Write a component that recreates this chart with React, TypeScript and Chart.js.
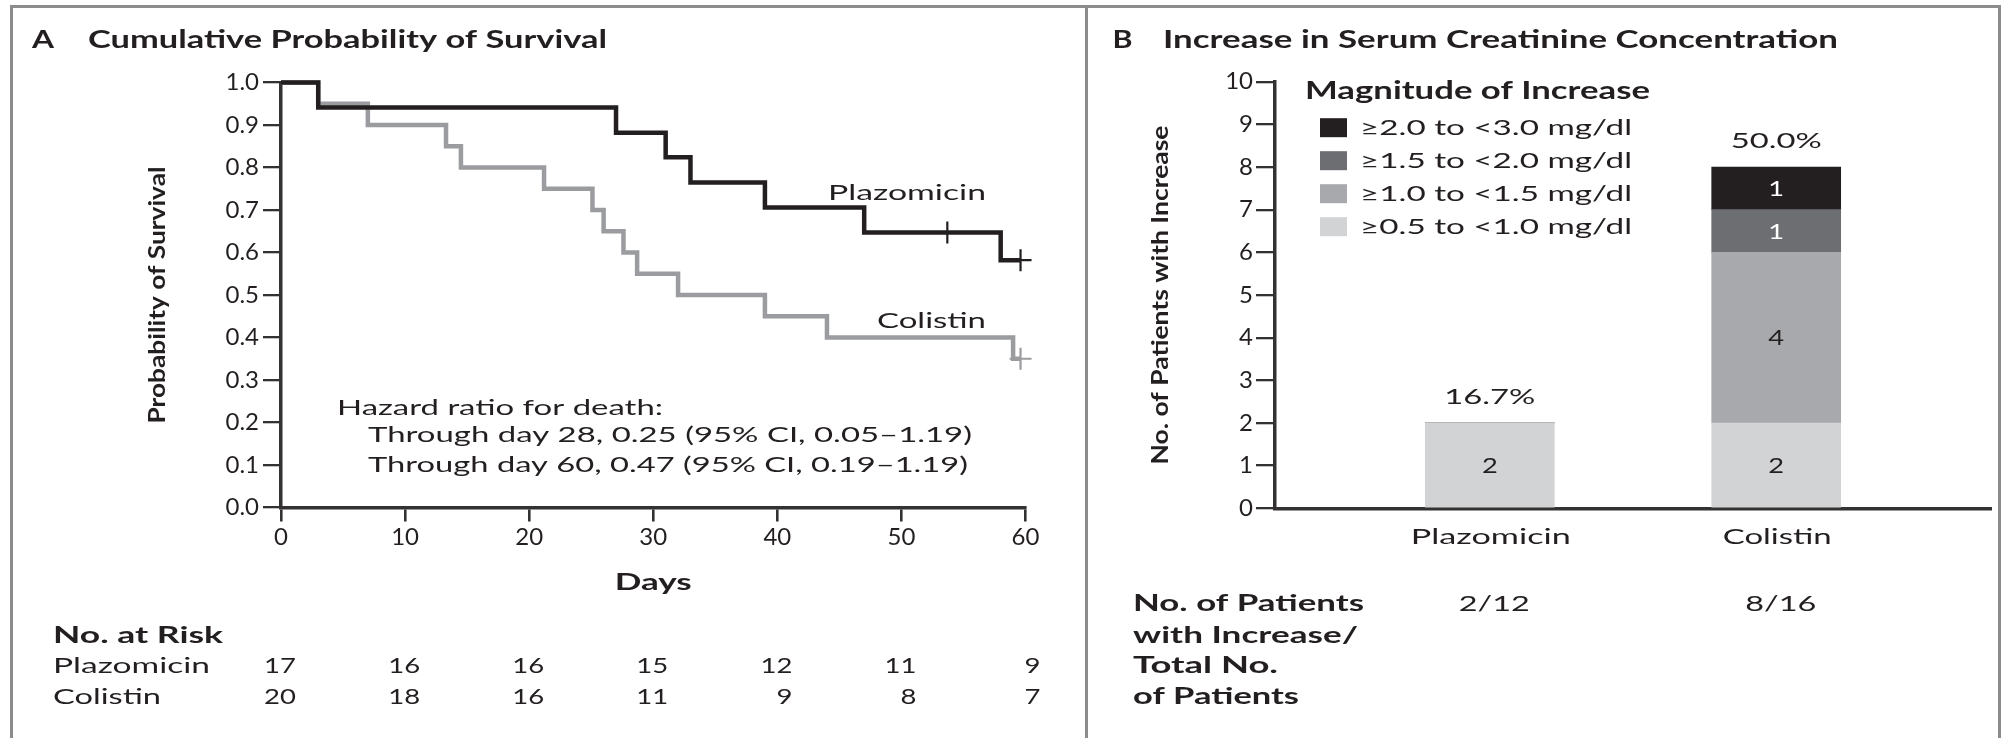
import React, { useEffect, useRef } from 'react';
import { Chart, registerables } from 'chart.js';

Chart.register(...registerables);

// ---------------- Panel A data ----------------
const panelATitle = 'Cumulative Probability of Survival';
const dayTicks = [0, 10, 20, 30, 40, 50, 60];
const probabilityTicks = [0, 0.1, 0.2, 0.3, 0.4, 0.5, 0.6, 0.7, 0.8, 0.9, 1.0];

const plazomicinTimes = [0, 3, 27, 31, 33, 39, 47, 58, 59.6];
const plazomicinSurvival = [1.0, 0.941, 0.882, 0.824, 0.765, 0.706, 0.647, 0.582, 0.582];
const plazomicinCensorTimes = [53.7, 59.6];
const plazomicinCensorSurvival = [0.647, 0.582];

const colistinTimes = [0, 3, 7, 13.3, 14.5, 21.2, 25.1, 26, 27.6, 28.7, 32, 39, 44, 59, 59.6];
const colistinSurvival = [1.0, 0.95, 0.9, 0.85, 0.8, 0.75, 0.7, 0.65, 0.6, 0.55, 0.5, 0.45, 0.4, 0.35, 0.35];
const colistinCensorTimes = [59.6];
const colistinCensorSurvival = [0.35];

const plazomicinAtRisk = [17, 16, 16, 15, 12, 11, 9];
const colistinAtRisk = [20, 18, 16, 11, 9, 8, 7];

const hazardLines = [
  'Hazard ratio for death:',
  'Through day 28, 0.25 (95% CI, 0.05\u20131.19)',
  'Through day 60, 0.47 (95% CI, 0.19\u20131.19)',
];

// ---------------- Panel B data ----------------
const panelBTitle = 'Increase in Serum Creatinine Concentration';
const groups = ['Plazomicin', 'Colistin'];
const countTicks = [0, 1, 2, 3, 4, 5, 6, 7, 8, 9, 10];
// stack order: bottom -> top
const magnitudeLevels = [
  '\u22650.5 to <1.0 mg/dl',
  '\u22651.0 to <1.5 mg/dl',
  '\u22651.5 to <2.0 mg/dl',
  '\u22652.0 to <3.0 mg/dl',
];
const plazomicinCounts = [2, 0, 0, 0];
const colistinCounts = [2, 4, 1, 1];
const patientsWithIncrease = [2, 8];
const totalPatients = [12, 16];

// ---------------- styles ----------------
const FONT = 'Lato, "Open Sans", "DejaVu Sans", sans-serif';
const INK = '#231f20';
const AXIS = '#333132';
const PLAZ_COLOR = '#231f20';
const COL_COLOR = '#9b9c9f';
const magnitudeColors = ['#d1d3d4', '#a7a9ac', '#6d6e71', '#231f20'];
const segmentTextColors = [INK, INK, '#ffffff', '#ffffff'];
const B_LEFT = 1087;

type TextOpts = { align?: 'left' | 'center' | 'right'; width?: number; sx?: number; color?: string; rotate?: number };

function drawText(ctx: CanvasRenderingContext2D, text: string, x: number, y: number, font: string, o: TextOpts = {}) {
  ctx.save();
  ctx.font = font;
  ctx.fillStyle = o.color ?? INK;
  ctx.textBaseline = 'alphabetic';
  ctx.textAlign = 'left';
  const natural = ctx.measureText(text).width;
  const sx = o.width ? o.width / natural : o.sx ?? 1;
  const w = natural * sx;
  ctx.translate(x, y);
  if (o.rotate) ctx.rotate(o.rotate);
  let dx = 0;
  if (o.align === 'center') dx = -w / 2;
  else if (o.align === 'right') dx = -w;
  ctx.translate(dx, 0);
  ctx.scale(sx, 1);
  ctx.fillText(text, 0, 0);
  ctx.restore();
}

const zip = (xs: number[], ys: number[]) => xs.map((x, i) => ({ x, y: ys[i] }));

const panelAPlugin = {
  id: 'panelAText',
  afterDraw(chart: any) {
    const ctx: CanvasRenderingContext2D = chart.ctx;
    const { x, y } = chart.scales;
    drawText(ctx, 'A', 32, 48, `bold 25px ${FONT}`, { width: 22 });
    drawText(ctx, panelATitle, 88, 48, `bold 25px ${FONT}`, { width: 519 });
    drawText(ctx, 'Probability of Survival', 164.5, (y.top + y.bottom) / 2, `bold 22px ${FONT}`, {
      align: 'center', width: 257, rotate: -Math.PI / 2,
    });
    drawText(ctx, 'Plazomicin', 986, 200, `22px ${FONT}`, { align: 'right', width: 158 });
    drawText(ctx, 'Colistin', 986, 328, `22px ${FONT}`, { align: 'right', width: 109 });
    drawText(ctx, hazardLines[0], 337, 415, `22px ${FONT}`, { width: 326 });
    drawText(ctx, hazardLines[1], 368, 442, `22px ${FONT}`, { width: 604 });
    drawText(ctx, hazardLines[2], 368, 472, `22px ${FONT}`, { width: 600 });
    drawText(ctx, 'Days', (x.left + x.right) / 2, 590, `bold 22px ${FONT}`, { align: 'center', width: 77 });
    drawText(ctx, 'No. at Risk', 53, 643, `bold 22px ${FONT}`, { width: 170 });
    drawText(ctx, 'Plazomicin', 53, 673, `22px ${FONT}`, { width: 157 });
    drawText(ctx, 'Colistin', 53, 704, `22px ${FONT}`, { width: 108 });
    dayTicks.forEach((d, i) => {
      const px = x.getPixelForValue(d) + 15;
      drawText(ctx, String(plazomicinAtRisk[i]), px, 673, `22px ${FONT}`, { align: 'right', sx: 1.25 });
      drawText(ctx, String(colistinAtRisk[i]), px, 704, `22px ${FONT}`, { align: 'right', sx: 1.25 });
    });
  },
};

const countsByGroup = [plazomicinCounts, colistinCounts];

const panelBPlugin = {
  id: 'panelBText',
  afterDraw(chart: any) {
    const ctx: CanvasRenderingContext2D = chart.ctx;
    const { x, y } = chart.scales;
    const bx = (px: number) => px - B_LEFT;
    drawText(ctx, 'B', bx(1112.5), 48, `bold 25px ${FONT}`, { width: 20 });
    drawText(ctx, panelBTitle, bx(1163), 48, `bold 25px ${FONT}`, { width: 675 });
    drawText(ctx, 'No. of Patients with Increase', bx(1168), (y.top + y.bottom) / 2, `bold 22px ${FONT}`, {
      align: 'center', width: 339, rotate: -Math.PI / 2,
    });
    // legend (top level first)
    drawText(ctx, 'Magnitude of Increase', bx(1305), 99, `bold 24px ${FONT}`, { width: 345 });
    const items = magnitudeLevels.map((label, i) => ({ label, color: magnitudeColors[i] })).reverse();
    items.forEach((it, i) => {
      const cy = 127.7 + 33 * i;
      ctx.save();
      ctx.fillStyle = it.color;
      ctx.fillRect(bx(1320), cy - 9.5, 27, 19);
      ctx.restore();
      drawText(ctx, it.label, bx(1360), cy + 7.5, `21px ${FONT}`, { width: 272 });
    });
    // segment values
    chart.data.datasets.forEach((_ds: any, di: number) => {
      const meta = chart.getDatasetMeta(di);
      meta.data.forEach((el: any, gi: number) => {
        const v = countsByGroup[gi][di];
        if (!v) return;
        const p = el.getProps(['x', 'y', 'base'], true);
        drawText(ctx, String(v), p.x, (p.y + p.base) / 2 + 7.5, `21px ${FONT}`, {
          align: 'center', sx: 1.3, color: segmentTextColors[di],
        });
      });
    });
    // percentages, category labels, counts table
    const xLabelWidths = [160, 109];
    groups.forEach((g, gi) => {
      const cx = x.getPixelForValue(gi);
      const total = countsByGroup[gi].reduce((a, b) => a + b, 0);
      const pct = ((patientsWithIncrease[gi] / totalPatients[gi]) * 100).toFixed(1) + '%';
      drawText(ctx, pct, cx, y.getPixelForValue(total) - 19, `22px ${FONT}`, { align: 'center', width: 91 });
      drawText(ctx, g, cx + 1, 544, `22px ${FONT}`, { align: 'center', width: xLabelWidths[gi] });
      drawText(ctx, `${patientsWithIncrease[gi]}/${totalPatients[gi]}`, cx + 4.5, 611, `22px ${FONT}`, {
        align: 'center', width: 71,
      });
    });
    const rowLabels = ['No. of Patients', 'with Increase/', 'Total No.', 'of Patients'];
    const rowWidths = [231, 225, 145, 166];
    const rowBase = [611, 643, 673, 704];
    rowLabels.forEach((t, i) => drawText(ctx, t, bx(1133), rowBase[i], `bold 22px ${FONT}`, { width: rowWidths[i] }));
  },
};

const baseOptions = {
  animation: false as const,
  responsive: false,
  maintainAspectRatio: false,
  devicePixelRatio: 1,
  events: [] as any[],
  plugins: { legend: { display: false }, title: { display: false }, tooltip: { enabled: false } },
};

const tickFont = { family: FONT, size: 24 };

export default function App() {
  const aRef = useRef<HTMLCanvasElement>(null);
  const bRef = useRef<HTMLCanvasElement>(null);

  useEffect(() => {
    const chartA = new Chart(aRef.current as HTMLCanvasElement, {
      type: 'line',
      data: {
        datasets: [
          {
            label: 'Plazomicin censored', data: zip(plazomicinCensorTimes, plazomicinCensorSurvival),
            showLine: false, pointStyle: 'cross', pointRadius: 11, pointBorderWidth: 2.2,
            pointBorderColor: PLAZ_COLOR, order: 0, clip: false,
          },
          {
            label: 'Colistin censored', data: zip(colistinCensorTimes, colistinCensorSurvival),
            showLine: false, pointStyle: 'cross', pointRadius: 11, pointBorderWidth: 2.2,
            pointBorderColor: COL_COLOR, order: 0, clip: false,
          },
          {
            label: 'Plazomicin', data: zip(plazomicinTimes, plazomicinSurvival), borderColor: PLAZ_COLOR,
            borderWidth: 4.5, stepped: 'before', pointRadius: 0, fill: false, order: 1, clip: false,
            borderJoinStyle: 'miter', borderCapStyle: 'butt',
          },
          {
            label: 'Colistin', data: zip(colistinTimes, colistinSurvival), borderColor: COL_COLOR,
            borderWidth: 4.5, stepped: 'before', pointRadius: 0, fill: false, order: 2, clip: false,
            borderJoinStyle: 'miter', borderCapStyle: 'butt',
          },
        ] as any,
      },
      options: {
        ...baseOptions,
        layout: { padding: { left: 221, right: 59.5, top: 82.5, bottom: 190.5 } },
        scales: {
          x: {
            type: 'linear', min: 0, max: 60,
            afterBuildTicks: (s: any) => { s.ticks = dayTicks.map((v) => ({ value: v })); },
            afterFit: (s: any) => { s.height = 40; },
            ticks: { font: tickFont, color: INK, padding: 1, maxRotation: 0 },
            grid: { drawOnChartArea: false, tickLength: 14, tickWidth: 2.6, lineWidth: 2.6, color: AXIS },
            border: { display: true, color: AXIS, width: 3.5 },
          },
          y: {
            type: 'linear', min: 0, max: 1,
            afterBuildTicks: (s: any) => { s.ticks = probabilityTicks.map((v) => ({ value: v })); },
            afterFit: (s: any) => { s.width = 60; },
            ticks: { font: tickFont, color: INK, padding: 4, callback: (v: any) => Number(v).toFixed(1) },
            grid: { drawOnChartArea: false, tickLength: 18, tickWidth: 2.3, lineWidth: 2.3, color: AXIS },
            border: { display: true, color: AXIS, width: 3.5 },
          },
        },
      } as any,
      plugins: [panelAPlugin],
    });

    const chartB = new Chart(bRef.current as HTMLCanvasElement, {
      type: 'bar',
      data: {
        datasets: magnitudeLevels.map((label, i) => ({
          label,
          data: countsByGroup.map((counts, gi) => ({ x: gi, y: counts[i] })),
          backgroundColor: magnitudeColors[i],
          borderWidth: 0,
          barThickness: 129,
        })) as any,
      },
      options: {
        ...baseOptions,
        layout: { padding: { left: 128, right: 17, top: 81.7, bottom: 189.7 } },
        scales: {
          x: {
            type: 'linear', min: -0.75, max: 1.75, stacked: true, offset: false, bounds: 'data',
            afterBuildTicks: (s: any) => { s.ticks = groups.map((_g, i) => ({ value: i })); },
            afterFit: (s: any) => { s.height = 40; },
            ticks: { display: false },
            grid: { drawOnChartArea: false, drawTicks: false, offset: false, color: AXIS },
            border: { display: true, color: AXIS, width: 3.5 },
          },
          y: {
            type: 'linear', min: 0, max: 10, stacked: true,
            afterBuildTicks: (s: any) => { s.ticks = countTicks.map((v) => ({ value: v })); },
            afterFit: (s: any) => { s.width = 60; },
            ticks: { font: tickFont, color: INK, padding: 3 },
            grid: { drawOnChartArea: false, tickLength: 19, tickWidth: 2.3, lineWidth: 2.3, color: AXIS },
            border: { display: true, color: AXIS, width: 3.5 },
          },
        },
      } as any,
      plugins: [panelBPlugin],
    });

    return () => {
      chartA.destroy();
      chartB.destroy();
    };
  }, []);

  return (
    <div style={{ position: 'fixed', left: 0, top: 0, width: 2008, height: 738, background: '#fff', overflow: 'hidden' }}>
      <div
        style={{
          position: 'absolute', left: 10, top: 5, width: 1991, height: 800,
          border: '3px solid #8c8c8c', boxSizing: 'border-box',
        }}
      />
      <div style={{ position: 'absolute', left: 1084.5, top: 5, width: 3, height: 800, background: '#8c8c8c' }} />
      <canvas ref={aRef} width={1085} height={738} style={{ position: 'absolute', left: 0, top: 0 }} />
      <canvas ref={bRef} width={921} height={738} style={{ position: 'absolute', left: B_LEFT, top: 0 }} />
    </div>
  );
}
